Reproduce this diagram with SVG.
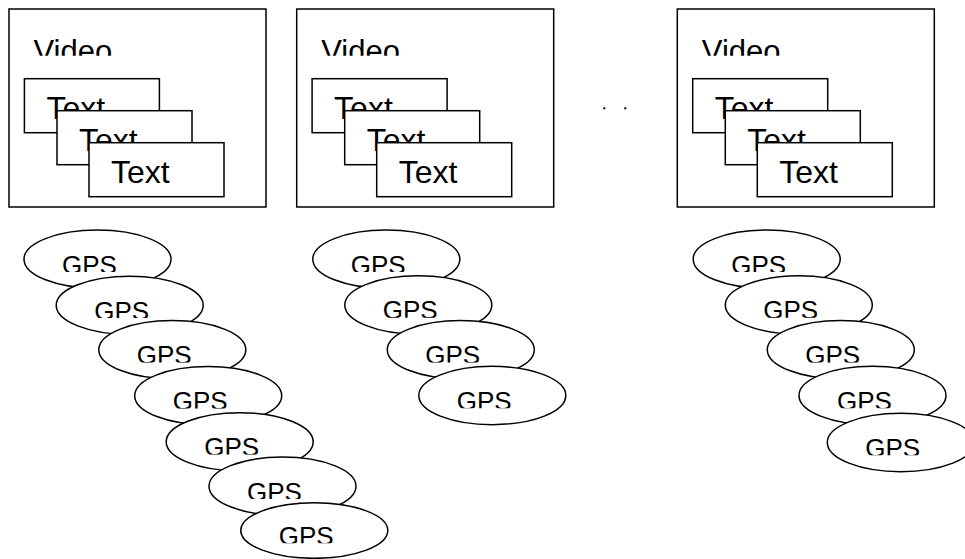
<svg xmlns="http://www.w3.org/2000/svg" width="965" height="559" viewBox="0 0 965 559">
<style>
.box{fill:#fff;stroke:#000;stroke-width:1.5}
.ell{fill:#fff;stroke:#000;stroke-width:1.5}
.t{font-family:"Liberation Sans",Arial,sans-serif;fill:#000}
.vid{font-size:31px}
.txt{font-size:32px}
.gps{font-size:26px}
</style>
<defs>
<clipPath id="vclip"><rect x="-5" y="0" width="270" height="46.7"/></clipPath>
<clipPath id="gclip"><rect x="-80" y="-40" width="160" height="52.7"/></clipPath>
</defs>
<rect width="965" height="559" fill="#fff"/>

<g id="video1" transform="translate(9,9)">
<rect class="box" x="0" y="0" width="257" height="198"/>
<text class="t vid" x="24.5" y="52.5" clip-path="url(#vclip)">Video</text>
<g id="v1-text1" transform="translate(15.4,69.7)"><rect class="box" width="135" height="54"/><text class="t txt" x="22" y="40">Text</text></g>
<g id="v1-text2" transform="translate(48,101.7)"><rect class="box" width="135" height="54"/><text class="t txt" x="22" y="40">Text</text></g>
<g id="v1-text3" transform="translate(80,133.7)"><rect class="box" width="135" height="54"/><text class="t txt" x="22" y="40">Text</text></g>
</g>

<g id="video2" transform="translate(296.7,9)">
<rect class="box" x="0" y="0" width="257" height="198"/>
<text class="t vid" x="24.5" y="52.5" clip-path="url(#vclip)">Video</text>
<g id="v2-text1" transform="translate(15.4,69.7)"><rect class="box" width="135" height="54"/><text class="t txt" x="22" y="40">Text</text></g>
<g id="v2-text2" transform="translate(48,101.7)"><rect class="box" width="135" height="54"/><text class="t txt" x="22" y="40">Text</text></g>
<g id="v2-text3" transform="translate(80,133.7)"><rect class="box" width="135" height="54"/><text class="t txt" x="22" y="40">Text</text></g>
</g>

<g id="video3" transform="translate(677.3,9)">
<rect class="box" x="0" y="0" width="257" height="198"/>
<text class="t vid" x="24.5" y="52.5" clip-path="url(#vclip)">Video</text>
<g id="v3-text1" transform="translate(15.4,69.7)"><rect class="box" width="135" height="54"/><text class="t txt" x="22" y="40">Text</text></g>
<g id="v3-text2" transform="translate(48,101.7)"><rect class="box" width="135" height="54"/><text class="t txt" x="22" y="40">Text</text></g>
<g id="v3-text3" transform="translate(80,133.7)"><rect class="box" width="135" height="54"/><text class="t txt" x="22" y="40">Text</text></g>
</g>

<g id="ellipsis">
<rect x="603.3" y="107.3" width="2" height="2" fill="#000"/>
<rect x="624.3" y="107.3" width="2" height="2" fill="#000"/>
</g>

<g id="gps1-1" transform="translate(97.5,259.2)"><ellipse class="ell" rx="73.5" ry="29.15"/><text class="t gps" x="-35.5" y="14.3" clip-path="url(#gclip)">GPS</text></g>
<g id="gps1-2" transform="translate(129.7,305.3)"><ellipse class="ell" rx="73.5" ry="29.15"/><text class="t gps" x="-35.5" y="14.3" clip-path="url(#gclip)">GPS</text></g>
<g id="gps1-3" transform="translate(172.3,349.7)"><ellipse class="ell" rx="73.5" ry="29.15"/><text class="t gps" x="-35.5" y="14.3" clip-path="url(#gclip)">GPS</text></g>
<g id="gps1-4" transform="translate(208.2,395.7)"><ellipse class="ell" rx="73.5" ry="29.15"/><text class="t gps" x="-35.5" y="14.3" clip-path="url(#gclip)">GPS</text></g>
<g id="gps1-5" transform="translate(239.7,441.8)"><ellipse class="ell" rx="73.5" ry="29.15"/><text class="t gps" x="-35.5" y="14.3" clip-path="url(#gclip)">GPS</text></g>
<g id="gps1-6" transform="translate(282.5,486.2)"><ellipse class="ell" rx="73.5" ry="29.15"/><text class="t gps" x="-35.5" y="14.3" clip-path="url(#gclip)">GPS</text></g>
<g id="gps1-7" transform="translate(314.3,530.5)"><ellipse class="ell" rx="73.5" ry="27.8"/><text class="t gps" x="-35.5" y="14.3" clip-path="url(#gclip)">GPS</text></g>

<g id="gps2-1" transform="translate(386.3,259.2)"><ellipse class="ell" rx="73.5" ry="29.15"/><text class="t gps" x="-35.5" y="14.3" clip-path="url(#gclip)">GPS</text></g>
<g id="gps2-2" transform="translate(418.3,305)"><ellipse class="ell" rx="73.5" ry="29.15"/><text class="t gps" x="-35.5" y="14.3" clip-path="url(#gclip)">GPS</text></g>
<g id="gps2-3" transform="translate(460.8,349.7)"><ellipse class="ell" rx="73.5" ry="29.15"/><text class="t gps" x="-35.5" y="14.3" clip-path="url(#gclip)">GPS</text></g>
<g id="gps2-4" transform="translate(492.3,395.5)"><ellipse class="ell" rx="73.5" ry="29.15"/><text class="t gps" x="-35.5" y="14.3" clip-path="url(#gclip)">GPS</text></g>

<g id="gps3-1" transform="translate(766.7,259.2)"><ellipse class="ell" rx="73.5" ry="29.15"/><text class="t gps" x="-35.5" y="14.3" clip-path="url(#gclip)">GPS</text></g>
<g id="gps3-2" transform="translate(798.8,305)"><ellipse class="ell" rx="73.5" ry="29.15"/><text class="t gps" x="-35.5" y="14.3" clip-path="url(#gclip)">GPS</text></g>
<g id="gps3-3" transform="translate(840.8,349.7)"><ellipse class="ell" rx="73.5" ry="29.15"/><text class="t gps" x="-35.5" y="14.3" clip-path="url(#gclip)">GPS</text></g>
<g id="gps3-4" transform="translate(872.5,395.5)"><ellipse class="ell" rx="73.5" ry="29.15"/><text class="t gps" x="-35.5" y="14.3" clip-path="url(#gclip)">GPS</text></g>
<g id="gps3-5" transform="translate(900.8,442.5)"><ellipse class="ell" rx="73.5" ry="29.15"/><text class="t gps" x="-35.5" y="14.3" clip-path="url(#gclip)">GPS</text></g>
</svg>
